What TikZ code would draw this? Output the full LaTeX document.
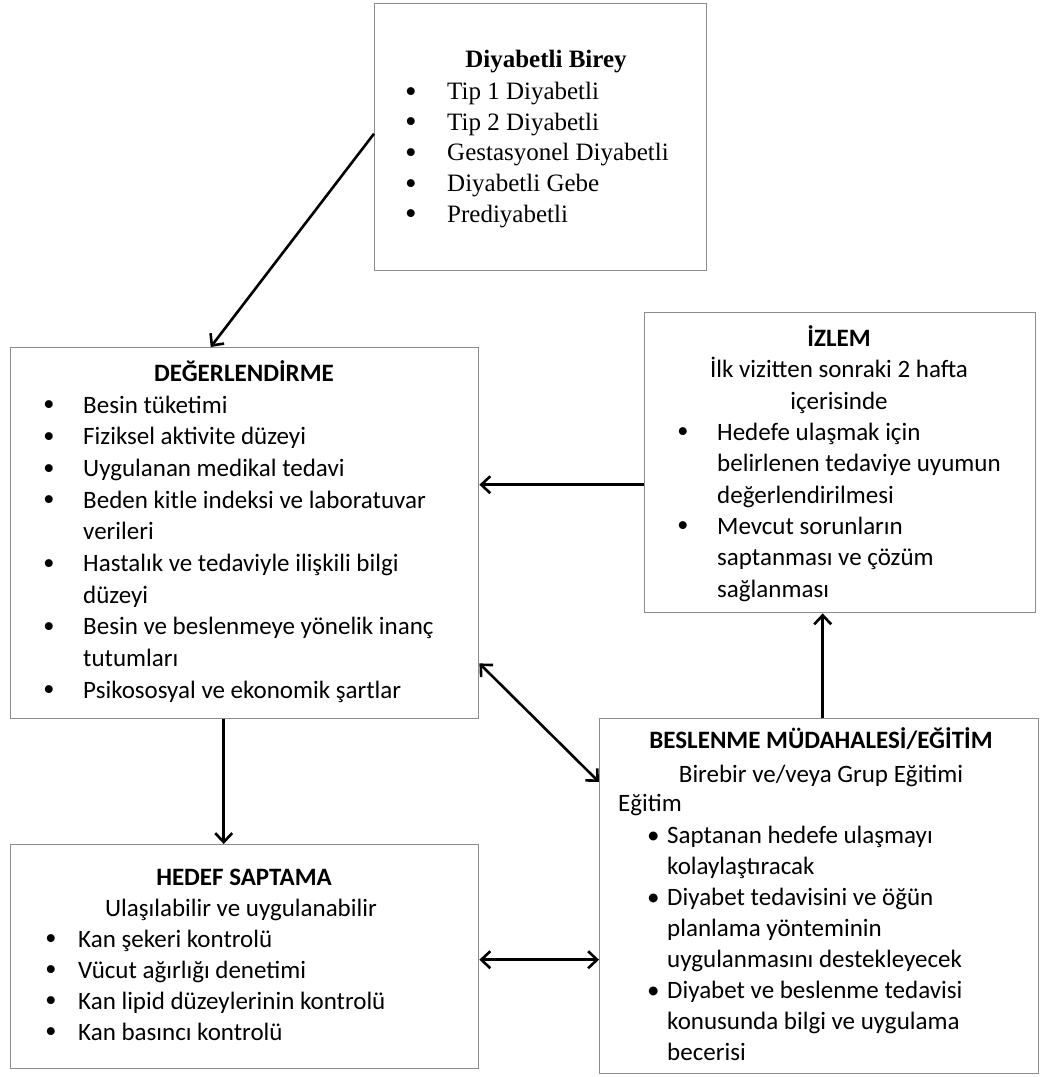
\documentclass[tikz,border=0pt]{standalone}
\usepackage{fontspec}
\setmainfont{Carlito}
\newfontfamily\timesfont{Liberation Serif}
\usetikzlibrary{arrows.meta}
\newcommand\bul{\raisebox{-2.5pt}{\timesfont\fontsize{33}{33}\selectfont\char"2022}}
\newcommand\bitem[1][39pt]{\makebox[#1][l]{\bul}}
\newcommand\bcont[1][39pt]{\hspace*{#1}}
\newcommand\topline{\rule{0pt}{24pt}}

\begin{document}
\begin{tikzpicture}[x=1pt,y=-1pt,
    box/.style={draw=black!45,line width=1.4pt,anchor=north west,inner sep=0pt},
    txt/.style={anchor=north west,inner sep=0pt,align=left,font=\fontsize{25}{31.6}\selectfont},
    ttl/.style={anchor=base,inner sep=0pt,font=\fontsize{25}{31.6}\selectfont},
    arr/.style={line width=2.6pt,-{Straight Barb[length=9pt,width=17pt]}},
    darr/.style={line width=2.6pt,{Straight Barb[length=9pt,width=17pt]}-{Straight Barb[length=9pt,width=17pt]}}]
    \useasboundingbox (0,0) rectangle (1041,1077);

    % boxes
    \node[box,minimum width=332pt,minimum height=267pt] (birey) at (374,3) {};
    \node[box,minimum width=468pt,minimum height=371pt] (deg) at (10,347) {};
    \node[box,minimum width=391pt,minimum height=300pt] (izlem) at (644,312) {};
    \node[box,minimum width=439pt,minimum height=355pt] (besl) at (599,718) {};
    \node[box,minimum width=468pt,minimum height=224pt] (hedef) at (10,844) {};

    % Diyabetli Birey
    \node[ttl,font=\timesfont\fontsize{25}{30.7}\selectfont\bfseries] (bireyttl) at (546,67) {Diyabetli Birey};
    \node[txt,font=\timesfont\fontsize{25}{30.7}\selectfont] (bireylst) at (405,75.3) {%
        \topline\bitem[42pt]Tip 1 Diyabetli\\
        \bitem[42pt]Tip 2 Diyabetli\\
        \bitem[42pt]Gestasyonel Diyabetli\\
        \bitem[42pt]Diyabetli Gebe\\
        \bitem[42pt]Prediyabetli};

    % Degerlendirme
    \node[ttl,font=\fontsize{25}{31.6}\selectfont\bfseries] (degttl) at (244,381) {DEĞERLENDİRME};
    \node[txt,font=\fontsize{25}{31.67}\selectfont] (deglst) at (43,389) {%
        \topline\bitem[40pt]Besin tüketimi\\
        \bitem[40pt]Fiziksel aktivite düzeyi\\
        \bitem[40pt]Uygulanan medikal tedavi\\
        \bitem[40pt]Beden kitle indeksi ve laboratuvar\\
        \bcont[40pt]verileri\\
        \bitem[40pt]Hastalık ve tedaviyle ilişkili bilgi\\
        \bcont[40pt]düzeyi\\
        \bitem[40pt]Besin ve beslenmeye yönelik inanç\\
        \bcont[40pt]tutumları\\
        \bitem[40pt]Psikososyal ve ekonomik şartlar};

    % Izlem
    \node[ttl,font=\fontsize{25}{31.6}\selectfont\bfseries] (izlemttl) at (839,346) {İZLEM};
    \node[ttl] (izlemsub) at (839,377) {İlk vizitten sonraki 2 hafta};
    \node[ttl] (izlemsub2) at (839,409) {içerisinde};
    \node[txt,font=\fontsize{25}{31.4}\selectfont] (izlemlst) at (677,416) {%
        \topline\bitem[40pt]Hedefe ulaşmak için\\
        \bcont[40pt]belirlenen tedaviye uyumun\\
        \bcont[40pt]değerlendirilmesi\\
        \bitem[40pt]Mevcut sorunların\\
        \bcont[40pt]saptanması ve çözüm\\
        \bcont[40pt]sağlanması};

    % Beslenme mudahalesi
    \node[ttl,font=\fontsize{25}{31.6}\selectfont\bfseries] (beslttl) at (821,748) {BESLENME MÜDAHALESİ/EĞİTİM};
    \node[ttl] (beslsub) at (821,782) {Birebir ve/veya Grup Eğitimi};
    \node[anchor=base west,inner sep=0pt,font=\fontsize{25}{31}\selectfont] (besledu) at (618,811) {Eğitim};
    \node[txt,font=\fontsize{25}{31}\selectfont] (besllst) at (647,819) {%
        \topline\makebox[20pt][l]{•}Saptanan hedefe ulaşmayı\\
        \bcont[20pt]kolaylaştıracak\\
        \makebox[20pt][l]{•}Diyabet tedavisini ve öğün\\
        \bcont[20pt]planlama yönteminin\\
        \bcont[20pt]uygulanmasını destekleyecek\\
        \makebox[20pt][l]{•}Diyabet ve beslenme tedavisi\\
        \bcont[20pt]konusunda bilgi ve uygulama\\
        \bcont[20pt]becerisi};

    % Hedef saptama
    \node[ttl,font=\fontsize{25}{31.6}\selectfont\bfseries] (hedefttl) at (244,885) {HEDEF SAPTAMA};
    \node[ttl] (hedefsub) at (241,916) {Ulaşılabilir ve uygulanabilir};
    \node[txt,font=\fontsize{25}{31}\selectfont] (hedeflst) at (45,923) {%
        \topline\bitem[33pt]Kan şekeri kontrolü\\
        \bitem[33pt]Vücut ağırlığı denetimi\\
        \bitem[33pt]Kan lipid düzeylerinin kontrolü\\
        \bitem[33pt]Kan basıncı kontrolü};

    % arrows
    \draw[arr] ([yshift=3.5pt]birey.west) -- ([xshift=-34pt]deg.north);
    \draw[arr] ([yshift=-22pt]izlem.west) -- ([yshift=-22pt]izlem.west -| deg.east);
    \draw[darr] ([yshift=56pt]deg.south east) -- ([yshift=-64pt]besl.north west);
    \draw[arr] ([xshift=-21pt]deg.south) -- ([xshift=-21pt]hedef.north);
    \draw[arr] ([xshift=3.5pt]besl.north) -- ([xshift=3.5pt]besl.north |- izlem.south);
    \draw[darr] ([yshift=-3pt]hedef.east) -- ([yshift=-3pt]hedef.east -| besl.west);
\end{tikzpicture}
\end{document}
